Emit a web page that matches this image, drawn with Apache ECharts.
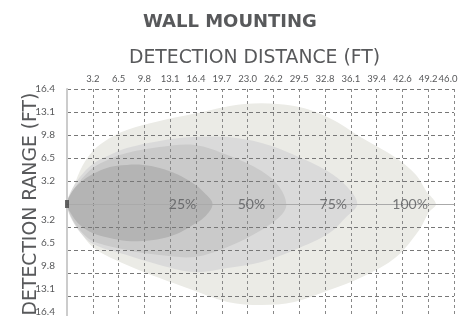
<!DOCTYPE html>
<html><head><meta charset="utf-8">
<script src="https://cdn.jsdelivr.net/npm/echarts@6/dist/echarts.min.js"></script>
<style>html,body{margin:0;padding:0;background:#fff}#c{width:472px;height:316px}</style>
</head><body><div id="c"></div>
<script>
// Tick labels (ft)
const xTickLabels = ['', '3.2','6.5','9.8','13.1','16.4','19.7','23.0','26.2','29.5','32.8','36.1','39.4','42.6','49.2','46.0'];
const yTickLabels = ['', '3.2','6.5','9.8','13.1','16.4'];

// Coverage outlines, in grid-cell units (x: distance cells, y: range cells)
const zone100 = [[0,0],[0.12,0.26],[0.5,1.43],[1.0,2.3],[1.66,2.87],[2.32,3.22],[3.59,3.61],[4.87,3.91],[6.88,4.35],[8.81,4.26],[10.17,3.74],[11.44,2.87],[12.76,2.0],[13.53,1.26],[13.92,0.57],[14.3,0],[14.03,-0.35],[13.65,-1.13],[12.76,-2.3],[11.44,-3.17],[10.17,-3.74],[8.81,-4.26],[7.54,-4.39],[6.22,-4.26],[4.87,-3.74],[3.59,-3.22],[2.32,-2.65],[1.0,-1.87],[0.39,-0.91],[0.12,-0.26]];
const zone75 = [[0,0],[0.12,0.48],[0.5,1.17],[1.0,1.74],[1.66,2.13],[2.32,2.43],[3.59,2.74],[4.87,2.91],[6.22,2.91],[7.54,2.65],[8.81,2.13],[10.09,1.43],[10.86,0.74],[11.25,0],[10.82,-0.57],[10.17,-1.26],[8.81,-2.0],[7.54,-2.52],[6.22,-2.78],[4.95,-2.96],[3.59,-2.65],[2.32,-2.22],[1.0,-1.74],[0.5,-1.22],[0.12,-0.52]];
const zone50 = [[0,0],[0.15,0.43],[0.5,1.0],[1.0,1.57],[1.66,1.96],[2.32,2.22],[3.59,2.48],[4.95,2.57],[6.22,2.13],[7.54,1.43],[8.23,0.74],[8.5,0],[8.31,-0.48],[7.54,-1.13],[6.22,-1.87],[4.95,-2.3],[3.59,-2.22],[2.32,-2.0],[1.0,-1.61],[0.5,-1.13],[0.15,-0.52]];
const zone25 = [[0,0],[0.19,0.52],[0.5,0.91],[1.0,1.3],[1.66,1.61],[2.32,1.7],[2.94,1.7],[3.59,1.57],[4.25,1.3],[4.87,0.91],[5.33,0.48],[5.64,0],[5.33,-0.57],[4.75,-1.0],[4.25,-1.3],[3.59,-1.52],[2.94,-1.61],[2.32,-1.61],[1.66,-1.48],[1.0,-1.26],[0.5,-0.91],[0.19,-0.48]];

const zoneNames = ['100%','75%','50%','25%'];
const zoneLabelPos = [[13.3,0],[10.32,0],[7.15,0],[4.48,0]];
const sensorPos = [[0,0]];

const FONT = 'Lato, "Open Sans", sans-serif';
const WIDE = '"DejaVu Sans", sans-serif';
const TXT = '#58595b';
const LAST = xTickLabels.length - 1;
const TICK_FS = 9.5;

function zoneSeries(pts, color) {
  return {
    type: 'custom',
    coordinateSystem: 'cartesian2d',
    data: [pts[0]],
    silent: true,
    z: 1,
    renderItem: function (params, api) {
      return {
        type: 'polygon',
        shape: { points: pts.map(p => api.coord(p)), smooth: 0.35 },
        style: { fill: color, stroke: null }
      };
    }
  };
}

const chart = echarts.init(document.getElementById('c'), null, {renderer: 'canvas'});
chart.setOption({
  animation: false,
  backgroundColor: '#fff',
  title: {
    text: 'WALL MOUNTING',
    left: 143,
    top: 13,
    padding: 0,
    textStyle: { fontFamily: WIDE, fontWeight: 'bold', fontSize: 18, color: TXT }
  },
  grid: { left: 67, right: 18, top: 89, bottom: -3, show: false, outerBoundsMode: 'none' },
  xAxis: [{
    type: 'value', position: 'top', min: 0, max: LAST, interval: 1, z: 3,
    name: 'DETECTION DISTANCE (FT)', nameLocation: 'middle', nameGap: 21, nameMoveOverlap: false,
    nameTextStyle: { fontFamily: WIDE, fontSize: 18.8, color: TXT, padding: [0, 12, 0, 0] },
    axisLine: { show: true, lineStyle: { color: '#aaa', width: 1 } },
    axisTick: { show: false },
    axisLabel: {
      fontFamily: FONT, fontSize: TICK_FS, color: TXT, margin: 5, hideOverlap: false,
      showMinLabel: false, showMaxLabel: false,
      formatter: v => (Math.round(v) === LAST ? '' : (xTickLabels[Math.round(v)] || ''))
    },
    splitLine: { show: true, lineStyle: { color: '#888', width: 1, type: [3, 3] } }
  }, {
    type: 'value', position: 'top', min: 0, max: LAST, interval: 1, z: 3,
    axisLine: { show: false }, axisTick: { show: false }, splitLine: { show: false },
    axisLabel: {
      fontFamily: FONT, fontSize: TICK_FS, color: TXT, margin: 5, hideOverlap: false,
      showMinLabel: false, showMaxLabel: true,
      formatter: v => (Math.round(v) === LAST ? '{t|' + xTickLabels[LAST] + '}{s|\u00a0}' : ''),
      rich: {
        t: { fontFamily: FONT, fontSize: TICK_FS, color: TXT },
        s: { fontFamily: FONT, fontSize: TICK_FS, color: TXT, width: 12 }
      }
    }
  }],
  yAxis: [{
    type: 'value', min: -5, max: 5, interval: 1, z: 3,
    name: 'DETECTION RANGE (FT)', nameLocation: 'middle', nameGap: 26, nameRotate: 90, nameMoveOverlap: false,
    nameTextStyle: { fontFamily: WIDE, fontSize: 18.8, color: TXT },
    axisLine: { show: true, lineStyle: { color: '#999', width: 1 } },
    axisTick: { show: false },
    axisLabel: {
      fontFamily: FONT, fontSize: 10, color: TXT, margin: 12, hideOverlap: false,
      showMinLabel: true, showMaxLabel: true,
      formatter: v => {
        const t = yTickLabels[Math.abs(Math.round(v))] || '';
        if (!t) return '';
        return v < 0 ? '{lo|' + t + '}' : t;
      },
      rich: { lo: { fontFamily: FONT, fontSize: 10, color: TXT, padding: [0, 0, 15, 0] } }
    },
    splitLine: { show: true, lineStyle: { color: '#777', width: 1, type: [4, 3] } }
  }, {
    type: 'value', min: -5, max: 5, interval: 1, position: 'right', z: 3,
    axisLine: { show: true, lineStyle: { color: '#ccc', width: 2 } },
    axisTick: { show: false }, axisLabel: { show: false }, splitLine: { show: false }
  }],
  series: [
    zoneSeries(zone100, '#ebebe6'),
    zoneSeries(zone75, '#dadada'),
    zoneSeries(zone50, '#cacaca'),
    zoneSeries(zone25, '#b4b4b4'),
    {
      type: 'scatter', z: 10, symbolSize: 0, silent: true,
      data: zoneLabelPos.map((p, i) => ({ value: p, name: zoneNames[i] })),
      label: { show: true, position: 'inside', formatter: '{b}', fontFamily: FONT, fontSize: 14, color: TXT }
    },
    {
      type: 'scatter', z: 10, symbol: 'rect', symbolSize: [4, 8], silent: true,
      itemStyle: { color: '#444' }, data: sensorPos
    }
  ]
});
</script></body></html>
